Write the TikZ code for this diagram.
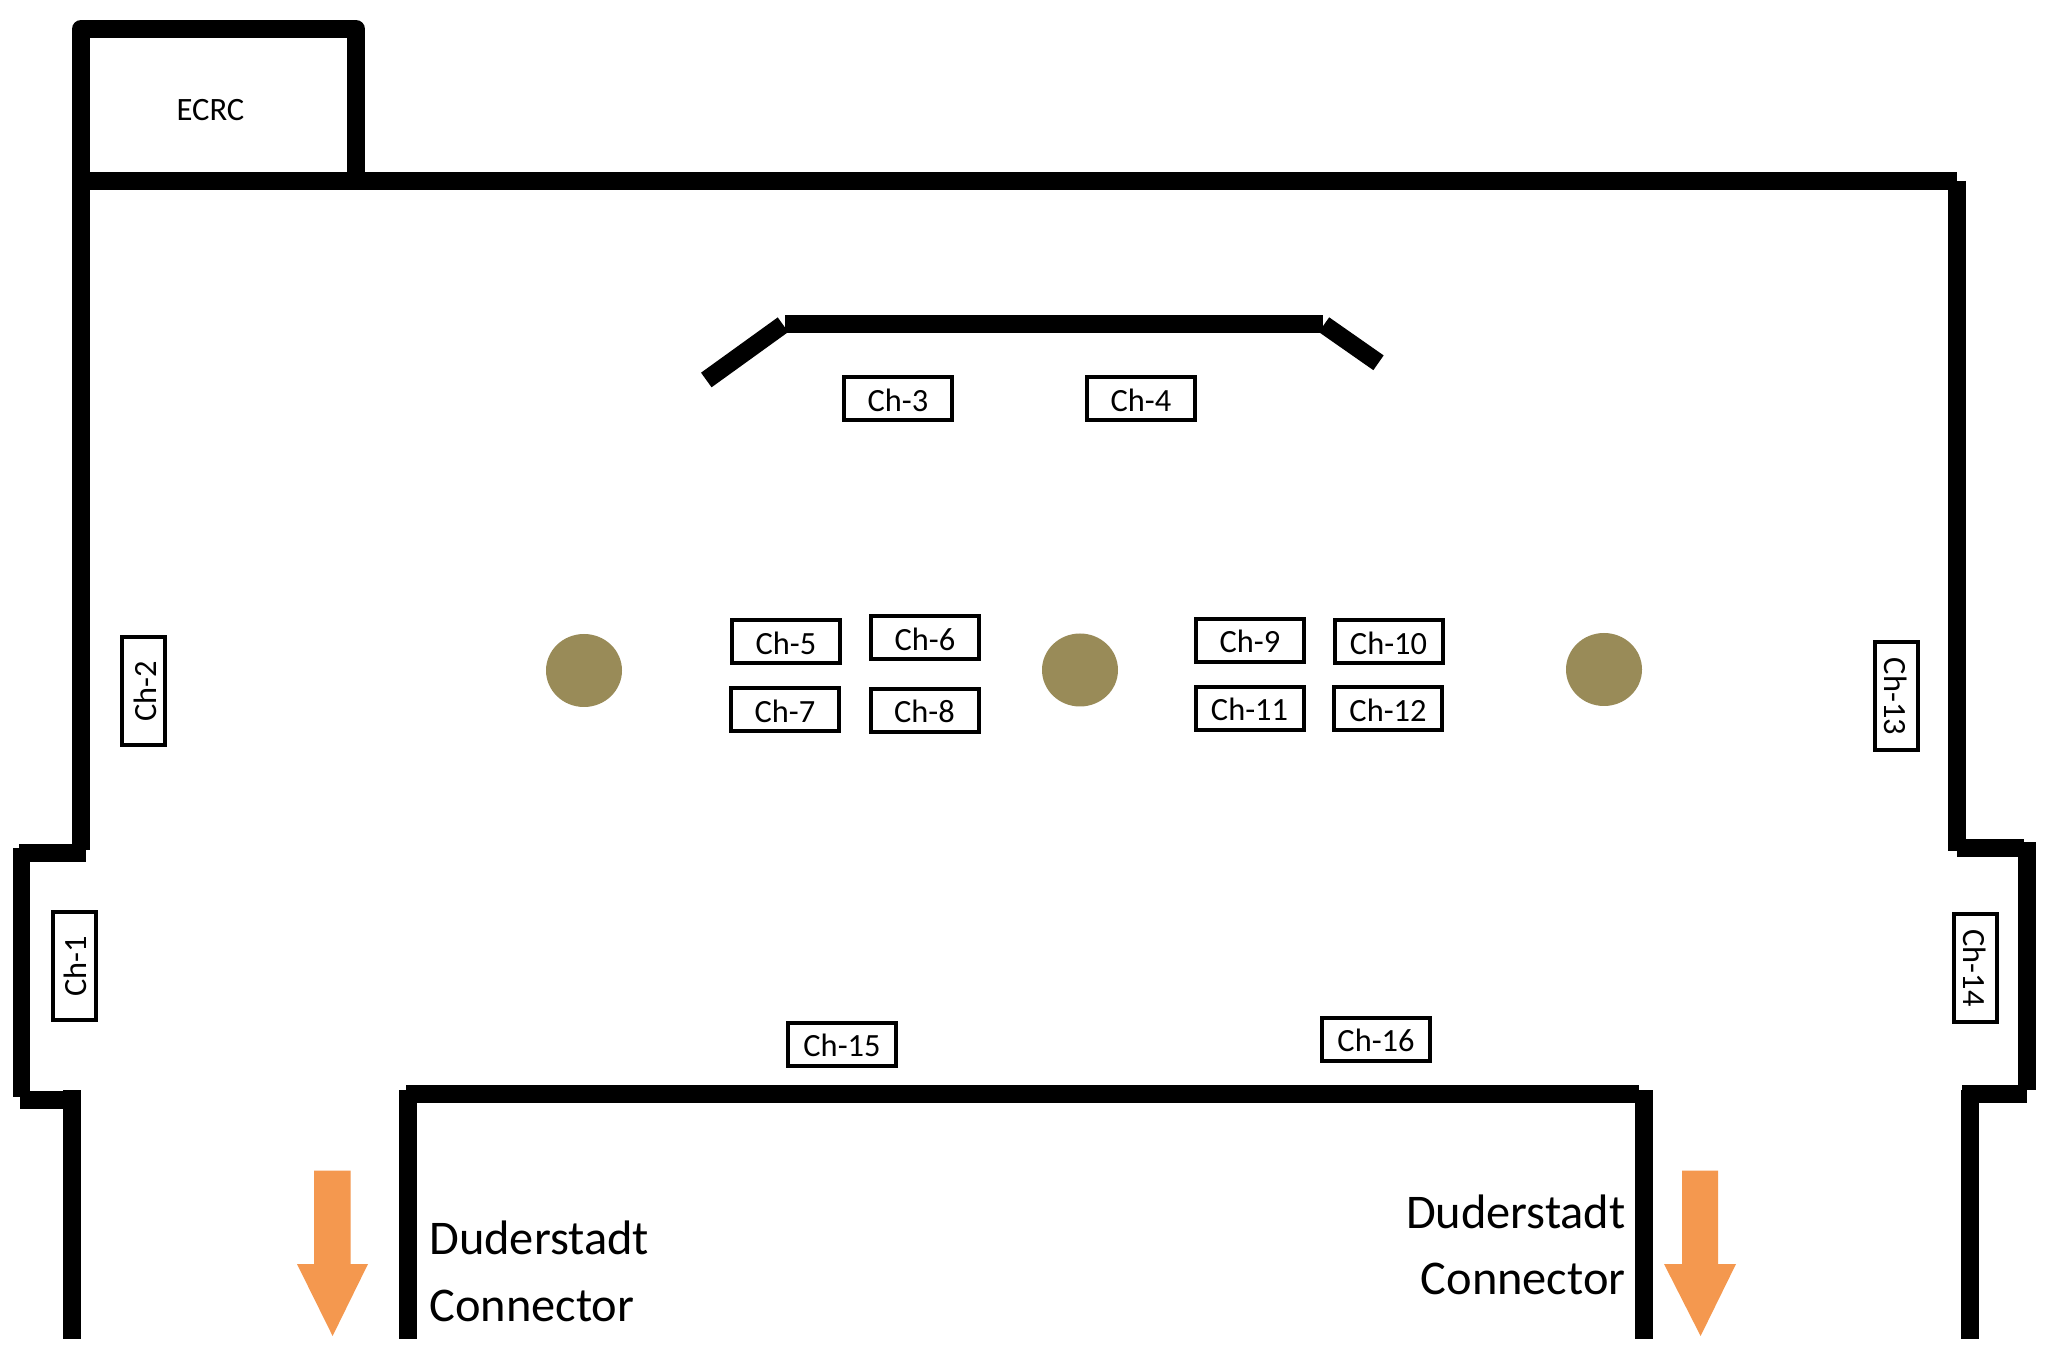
\documentclass[tikz,border=0pt]{standalone}
\usepackage{fontspec}
\setmainfont{Carlito}
\definecolor{wallblack}{HTML}{000000}
\definecolor{pillar}{HTML}{998B58}
\definecolor{exitarrow}{HTML}{F4984F}
\tikzset{
  wall/.style={line width=9pt,draw=wallblack,line cap=butt,line join=miter},
  wallfill/.style={fill=wallblack},
  chbox/.style={draw=black,line width=2pt,inner sep=0pt,minimum width=54pt,minimum height=21.5pt,text height=12.5pt,text depth=0pt,font=\fontsize{16.2}{16.2}\selectfont},
  bigtext/.style={inner sep=0pt,font=\fontsize{24.2}{24.2}\selectfont},
  smalltext/.style={inner sep=0pt,font=\fontsize{16.3}{16.3}\selectfont},
  pillarshape/.style={fill=pillar},
  exitshape/.style={fill=exitarrow}
}
\begin{document}
\begin{tikzpicture}[x=0.5pt,y=-0.5pt]
\path[fill=white,use as bounding box] (0,0) rectangle (2046,1368);
% ECRC room and upper walls
\draw[wall,line join=round] (81,190) -- (81,29) -- (356,29) -- (356,190);
\draw[wall] (81,180) -- (81,850);
\draw[wall] (81,181) -- (1957,181);
\draw[wall] (1957,181) -- (1957,851);
% left jog
\fill[wallfill] (19,844) rectangle (86,862);
\fill[wallfill] (12.5,848) rectangle (30,1097);
\fill[wallfill] (20,1091) rectangle (81,1109);
\fill[wallfill] (63,1090) rectangle (81,1339);
% right jog
\fill[wallfill] (1957,839) rectangle (2024,857);
\fill[wallfill] (2018,842) rectangle (2036,1090);
\fill[wallfill] (1962,1085) rectangle (2027,1103);
\fill[wallfill] (1961,1090) rectangle (1979,1339);
% central block
\fill[wallfill] (406,1085) rectangle (1639,1103);
\fill[wallfill] (399,1090) rectangle (417,1339);
\fill[wallfill] (1635,1090) rectangle (1653,1339);
% stage
\draw[wall] (785,324) -- (1323,324);
\draw[wall] (783,324.7) -- (706.3,380);
\draw[wall] (1324,324.7) -- (1378.5,362.8);
% pillars
\fill[pillarshape] (584,670.5) ellipse [x radius=38,y radius=36.5];
\fill[pillarshape] (1080,670) ellipse [x radius=38,y radius=36.5];
\fill[pillarshape] (1604,669.5) ellipse [x radius=38,y radius=36.5];
% exit arrows
\fill[exitshape] (314,1170.5) -- (350.5,1170.5) -- (350.5,1264) -- (368,1264) -- (332.6,1336) -- (297,1264) -- (314,1264) -- cycle;
\fill[exitshape] (1682,1170.5) -- (1718,1170.5) -- (1718,1264) -- (1736,1264) -- (1700.6,1336) -- (1664,1264) -- (1682,1264) -- cycle;
% labels
\node[smalltext] (ecrc) at (210.5,110) {ECRC};
\node[bigtext,anchor=base west] (dl1) at (429,1254.5) {Duderstadt};
\node[bigtext,anchor=base west] (dl2) at (429,1321) {Connector};
\node[bigtext,anchor=base east] (dr1) at (1626,1228) {Duderstadt};
\node[bigtext,anchor=base east] (dr2) at (1626,1294.5) {Connector};
% channel boxes
\node[chbox,rotate=90] (ch1) at (74,966) {Ch-1};
\node[chbox,rotate=90] (ch2) at (143.5,691) {Ch-2};
\node[chbox] (ch3) at (898,399) {Ch-3};
\node[chbox] (ch4) at (1141,399) {Ch-4};
\node[chbox] (ch5) at (786,642) {Ch-5};
\node[chbox] (ch6) at (925,638) {Ch-6};
\node[chbox] (ch7) at (785,710) {Ch-7};
\node[chbox] (ch8) at (924.5,710.5) {Ch-8};
\node[chbox] (ch9) at (1250,640.5) {Ch-9};
\node[chbox] (ch10) at (1388.5,642) {Ch-10};
\node[chbox] (ch11) at (1249.5,708.5) {Ch-11};
\node[chbox] (ch12) at (1388,709) {Ch-12};
\node[chbox,rotate=-90] (ch13) at (1896.5,696.5) {Ch-13};
\node[chbox,rotate=-90] (ch14) at (1975.5,968) {Ch-14};
\node[chbox] (ch15) at (842,1044) {Ch-15};
\node[chbox] (ch16) at (1376,1039) {Ch-16};
\end{tikzpicture}
\end{document}
